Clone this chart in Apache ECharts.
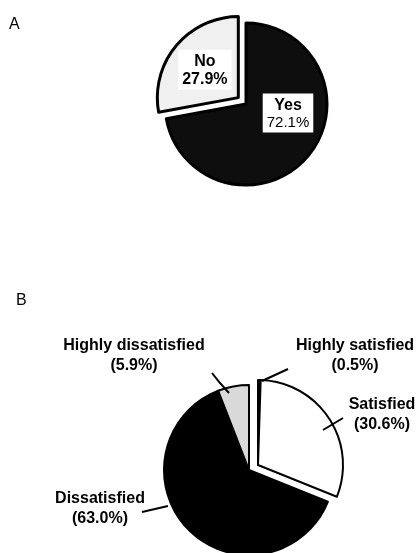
<!DOCTYPE html>
<html>
<head>
<meta charset="utf-8">
<script src="https://cdn.jsdelivr.net/npm/echarts@6/dist/echarts.min.js"></script>
<style>
  html, body { margin: 0; padding: 0; background: #ffffff; }
  #chart { width: 419px; height: 553px; }
</style>
</head>
<body>
<div id="chart"></div>
<script>
// Panel A: answer shares (percent)
const answerNames = ['Yes', 'No'];
const answerValues = [72.1, 27.9];

// Panel B: satisfaction shares (percent), clockwise from 12 o'clock
const satisfactionNames = ['Highly satisfied', 'Satisfied', 'Dissatisfied', 'Highly dissatisfied'];
const satisfactionValues = [0.5, 30.6, 63.0, 5.9];

const panelLetters = ['A', 'B'];

// ---- styling ----
const FONT = '"Liberation Sans", Arial, sans-serif';
const answerColors = ['#0e0e0e', '#f0f0f0'];
const satisfactionColors = ['#000000', '#ffffff', '#000000', '#d9d9d9'];
// slices pulled out of panel B's pie
const pulledOut = [true, true, false, false];

// label anchors and leader lines
const answerLabelAt = [[288, 113], [204, 70]];
const satisfactionLabelAt = [[355, 356], [382, 415], [100, 509], [134, 356]];
const satisfactionLeaders = [
  [[288, 369], [275, 375], [262, 381]],
  [[343, 418], [333, 424], [323, 430]],
  [[142, 512], [155, 509], [168, 506]],
  [[212, 373], [220, 383], [229, 393]]
];

const chart = echarts.init(document.getElementById('chart'), null, { renderer: 'canvas' });

const answerData = answerNames.map((name, i) => ({
  name: name,
  value: answerValues[i],
  selected: name === 'No',
  itemStyle: { color: answerColors[i] }
}));

// sectors of panel B; either the pulled-out group or the group left in place
function satisfactionSectors(showPulled) {
  return satisfactionNames.map((name, i) => {
    const visible = pulledOut[i] === showPulled;
    return {
      name: name,
      value: satisfactionValues[i],
      itemStyle: visible
        ? { color: satisfactionColors[i], borderColor: '#000', borderWidth: 2 }
        : { color: 'rgba(0,0,0,0)', borderWidth: 0 }
    };
  });
}

const hiddenSectors = satisfactionNames.map((name, i) => ({
  name: name,
  value: satisfactionValues[i],
  itemStyle: { color: 'rgba(0,0,0,0)', borderWidth: 0 }
}));

const sectorSeries = (center, data) => ({
  type: 'pie',
  silent: true,
  center: center,
  radius: 85,
  startAngle: 90,
  clockwise: true,
  avoidLabelOverlap: false,
  label: { show: false },
  labelLine: { show: false },
  data: data
});

const option = {
  backgroundColor: '#ffffff',
  animation: false,
  title: [
    { text: panelLetters[0], left: 4, top: 12,
      textStyle: { fontFamily: FONT, fontWeight: 'normal', fontSize: 16, color: '#000' } },
    { text: panelLetters[1], left: 11, top: 288,
      textStyle: { fontFamily: FONT, fontWeight: 'normal', fontSize: 16, color: '#000' } }
  ],
  series: [
    {
      type: 'pie',
      silent: true,
      center: [246, 104],
      radius: 81,
      startAngle: 90,
      clockwise: true,
      selectedMode: 'multiple',
      selectedOffset: 10,
      avoidLabelOverlap: false,
      itemStyle: { borderColor: '#000', borderWidth: 3 },
      label: {
        show: true,
        position: 'inside',
        backgroundColor: '#ffffff',
        padding: [3, 4, 1, 4],
        formatter: p => `{n|${p.name}}\n{v|${p.value.toFixed(1)}%}`,
        rich: {
          n: { fontFamily: FONT, fontWeight: 'bold', fontSize: 16, color: '#000', lineHeight: 18, align: 'center' },
          v: { fontFamily: FONT, fontWeight: 'normal', fontSize: 15, color: '#000', lineHeight: 17, align: 'center' },
          vb: { fontFamily: FONT, fontWeight: 'bold', fontSize: 16, color: '#000', lineHeight: 18, align: 'center' }
        }
      },
      labelLine: { show: false },
      labelLayout: p => ({
        x: answerLabelAt[p.dataIndex][0],
        y: answerLabelAt[p.dataIndex][1],
        align: 'center',
        verticalAlign: 'middle'
      }),
      data: answerData.map(d => d.name === 'No'
        ? Object.assign({}, d, { label: { formatter: p => `{vb|${p.name}}\n{vb|${p.value.toFixed(1)}%}` } })
        : d)
    },
    // slices that stay in place
    sectorSeries([249, 470], satisfactionSectors(false)),
    // slices pulled out toward the upper right
    sectorSeries([258, 465], satisfactionSectors(true)),
    {
      // labels and leader lines, drawn above all sectors
      type: 'pie',
      silent: true,
      z: 5,
      center: [249, 470],
      radius: 85,
      startAngle: 90,
      clockwise: true,
      avoidLabelOverlap: false,
      label: {
        show: true,
        position: 'outside',
        formatter: p => `{n|${p.name}}\n{v|(${p.value.toFixed(1)}%)}`,
        rich: {
          n: { fontFamily: FONT, fontWeight: 'bold', fontSize: 16, color: '#000', lineHeight: 20, align: 'center' },
          v: { fontFamily: FONT, fontWeight: 'bold', fontSize: 16, color: '#000', lineHeight: 20, align: 'center' }
        }
      },
      labelLine: { show: true, lineStyle: { color: '#000', width: 2 } },
      labelLayout: p => ({
        x: satisfactionLabelAt[p.dataIndex][0],
        y: satisfactionLabelAt[p.dataIndex][1],
        align: 'center',
        verticalAlign: 'middle',
        labelLinePoints: satisfactionLeaders[p.dataIndex]
      }),
      data: hiddenSectors
    }
  ]
};

chart.setOption(option);
</script>
</body>
</html>
